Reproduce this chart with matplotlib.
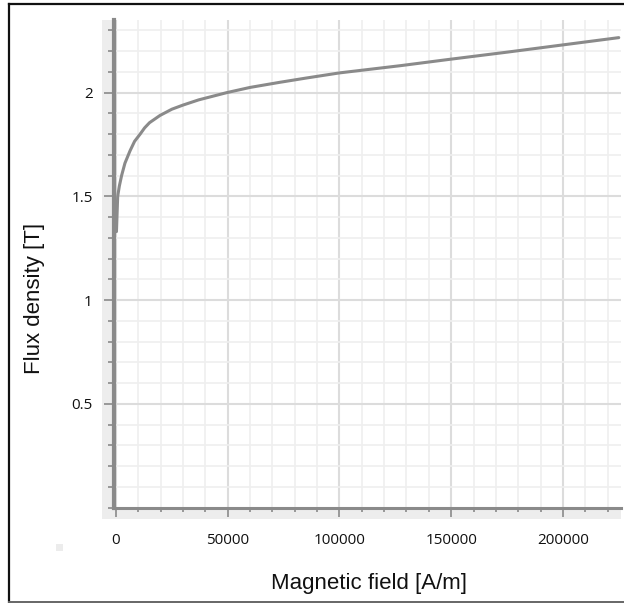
#!/usr/bin/env python

# B-H curve of the core material

import matplotlib
matplotlib.use('Agg')
from matplotlib import pyplot as plt
from matplotlib.patches import Rectangle
from matplotlib.lines import Line2D
from matplotlib.ticker import MultipleLocator

# magnetic field H [A/m] and flux density B [T]
field = [200, 750, 1500, 2500, 4000, 6300, 8300, 10800, 12800, 15000, 19700,
         25000, 30000, 37000, 49600, 60000, 73500, 85000, 100000, 127400,
         149000, 175000, 200000, 225000]
flux = [1.33, 1.50, 1.55, 1.60, 1.66, 1.72, 1.765, 1.80, 1.83, 1.855, 1.89,
        1.92, 1.94, 1.965, 2.00, 2.025, 2.05, 2.07, 2.095, 2.13,
        2.16, 2.195, 2.23, 2.265]

x_ticks = [0, 50000, 100000, 150000, 200000]
y_ticks = [0.5, 1, 1.5, 2]

W, H = 624, 603
fig = plt.figure(figsize=(W / 100, H / 100), dpi=100)

def fx(px):
    return px / W

def fy(py):
    return 1 - py / H

# light grey strip around the plot area
fig.patches.append(Rectangle((fx(102), fy(519)), fx(621 - 102), (519 - 20) / H,
                             transform=fig.transFigure, facecolor='#ededed',
                             edgecolor='none', zorder=-1))
# small grey square left of the x labels
fig.patches.append(Rectangle((fx(56), fy(551)), fx(7), 7 / H,
                             transform=fig.transFigure, facecolor='#ececec',
                             edgecolor='none', zorder=-1))
# black frame: top, left, bottom
frame = dict(transform=fig.transFigure, color='#111111', lw=1.6, zorder=5)
fig.lines.append(Line2D([fx(9), 1], [fy(3.5), fy(3.5)], **frame))
fig.lines.append(Line2D([fx(9), fx(9)], [fy(3.5), fy(601.5)], **frame))
fig.lines.append(Line2D([fx(9), 1], [fy(601.5), fy(601.5)], color='#666666',
                        lw=1.4, transform=fig.transFigure, zorder=5))

ax = fig.add_axes([fx(114), fy(507.5), fx(621 - 114), (507.5 - 20) / H])
ax.set_facecolor('white')
ax.set_xlim(-900, 226000)
ax.set_ylim(0.0, 2.35)

ax.xaxis.set_minor_locator(MultipleLocator(10000))
ax.yaxis.set_minor_locator(MultipleLocator(0.1))
ax.set_xticks(x_ticks)
ax.set_xticklabels([str(v) for v in x_ticks])
ax.set_yticks(y_ticks)
ax.set_yticklabels(['%g' % v for v in y_ticks])

ax.grid(which='major', color='#dcdcdc', lw=1.5)
ax.grid(which='minor', color='#efefef', lw=1.2)
ax.set_axisbelow(True)

for s in ['top', 'right']:
    ax.spines[s].set_visible(False)
ax.spines['left'].set_color('#8a8a8a')
ax.spines['left'].set_linewidth(3)
ax.spines['bottom'].set_color('#8a8a8a')
ax.spines['bottom'].set_linewidth(2.2)

ax.tick_params(which='both', color='#8a8a8a', width=1.2)
ax.tick_params(axis='y', which='major', length=7.2, pad=8, labelsize=11)
ax.tick_params(axis='y', which='minor', length=4.3)
ax.tick_params(axis='x', which='major', length=6.5, pad=12, labelsize=11)
ax.tick_params(axis='x', which='minor', length=3)
for lab in ax.get_xticklabels() + ax.get_yticklabels():
    lab.set_family('Open Sans')
    lab.set_color('#111111')

ax.plot(field, flux, color='#8a8a8a', lw=2.2, solid_capstyle='round',
        solid_joinstyle='round', zorder=3)

fig.text(fx(369), fy(583), 'Magnetic field [A/m]', ha='center', va='center',
         fontsize=16, family='Liberation Sans', color='#111111')
fig.text(fx(35), fy(298), 'Flux density [T]', ha='center', va='center',
         rotation=90, fontsize=16, family='Liberation Sans', color='#111111')

fig.savefig('out.png', dpi=100)
